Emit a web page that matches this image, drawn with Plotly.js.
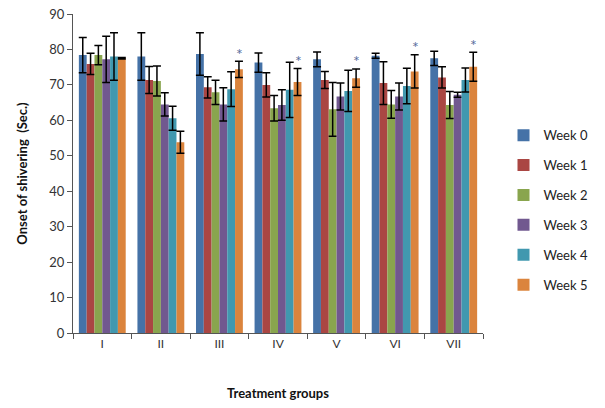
<!DOCTYPE html>
<html>
<head>
<meta charset="utf-8">
<script src="https://cdn.plot.ly/plotly-3.0.1.min.js"></script>
<style>html,body{margin:0;padding:0;background:#fff;}#chart{width:605px;height:408px;}</style>
</head>
<body>
<div id="chart"></div>
<script>
const groups = ["I", "II", "III", "IV", "V", "VI", "VII"];
const seriesNames = ["Week 0", "Week 1", "Week 2", "Week 3", "Week 4", "Week 5"];
const week0 = [78.4, 78.0, 78.7, 76.3, 77.2, 78.2, 77.5];
const week1 = [75.9, 71.4, 69.3, 70.0, 71.4, 70.5, 72.1];
const week2 = [78.4, 71.1, 67.9, 63.4, 63.1, 64.5, 64.3];
const week3 = [77.2, 64.5, 64.5, 64.3, 66.7, 66.7, 67.2];
const week4 = [78.0, 60.6, 68.8, 68.6, 68.3, 69.7, 71.4];
const week5 = [77.5, 53.8, 74.4, 70.8, 71.9, 73.8, 75.1];
const err0 = [5.0, 6.7, 6.0, 2.7, 2.1, 0.7, 2.0];
const err1 = [3.0, 3.8, 3.0, 3.4, 2.4, 6.0, 3.0];
const err2 = [2.7, 4.2, 3.4, 3.6, 7.6, 3.9, 3.8];
const err3 = [6.5, 3.3, 4.7, 4.3, 3.8, 3.8, 0.7];
const err4 = [6.7, 3.4, 4.9, 7.8, 5.8, 5.0, 3.4];
const err5 = [0.2, 3.1, 2.3, 3.8, 2.6, 4.7, 4.1];
const significant = ["III", "IV", "V", "VI", "VII"];

const colors = ["#4572A7", "#AA4643", "#89A54E", "#71588F", "#4198AF", "#DB843D"];
const values = [week0, week1, week2, week3, week4, week5];
const errs = [err0, err1, err2, err3, err4, err5];
const FONT = "Lato, 'Open Sans', sans-serif";

const traces = values.map((v, i) => ({
  type: "bar",
  name: seriesNames[i],
  legendgroup: "g" + i,
  x: groups,
  y: v,
  marker: {color: colors[i]},
  error_y: {type: "data", array: errs[i], visible: true, color: "#000", thickness: 1.5, width: 4}
}));

const annotations = significant.map(g => {
  const k = groups.indexOf(g);
  return {
    x: g, y: week5[k] + err5[k], xref: "x", yref: "y",
    text: "*", showarrow: false, xshift: 20, yshift: 8,
    font: {family: FONT, size: 16, color: "#5a6e9c"}
  };
});

const layout = {
  width: 605, height: 408,
  margin: {l: 73, r: 104, t: 14, b: 75},
  paper_bgcolor: "#fff", plot_bgcolor: "#fff",
  barmode: "group", bargap: 0.2, bargroupgap: 0,
  showlegend: true,
  legend: {x: 1.05, y: 0.385, xanchor: "left", yanchor: "middle", itemwidth: 30,
           font: {family: FONT, size: 13, color: "#222"}, tracegroupgap: 10},
  font: {family: FONT, size: 12, color: "#222"},
  xaxis: {
    type: "category", showline: true, linecolor: "#555", linewidth: 1,
    ticks: "outside", tickson: "boundaries", ticklen: 5, tickcolor: "#555",
    tickfont: {family: FONT, size: 12, color: "#333"},
    title: {text: "<b>Treatment groups</b>", font: {family: FONT, size: 13, color: "#111"}, standoff: 38},
    showgrid: false
  },
  yaxis: {
    range: [0, 90], dtick: 10, showline: true, linecolor: "#555", linewidth: 1,
    ticks: "outside", ticklen: 5, tickcolor: "#555", showgrid: false, zeroline: false,
    tickfont: {family: FONT, size: 13, color: "#333"},
    title: {text: "<b>Onset of shivering  (Sec.)</b>", font: {family: FONT, size: 13, color: "#111"}, standoff: 18}
  },
  annotations: annotations
};

Plotly.newPlot("chart", traces, layout, {displayModeBar: false, staticPlot: true});
</script>
</body>
</html>
